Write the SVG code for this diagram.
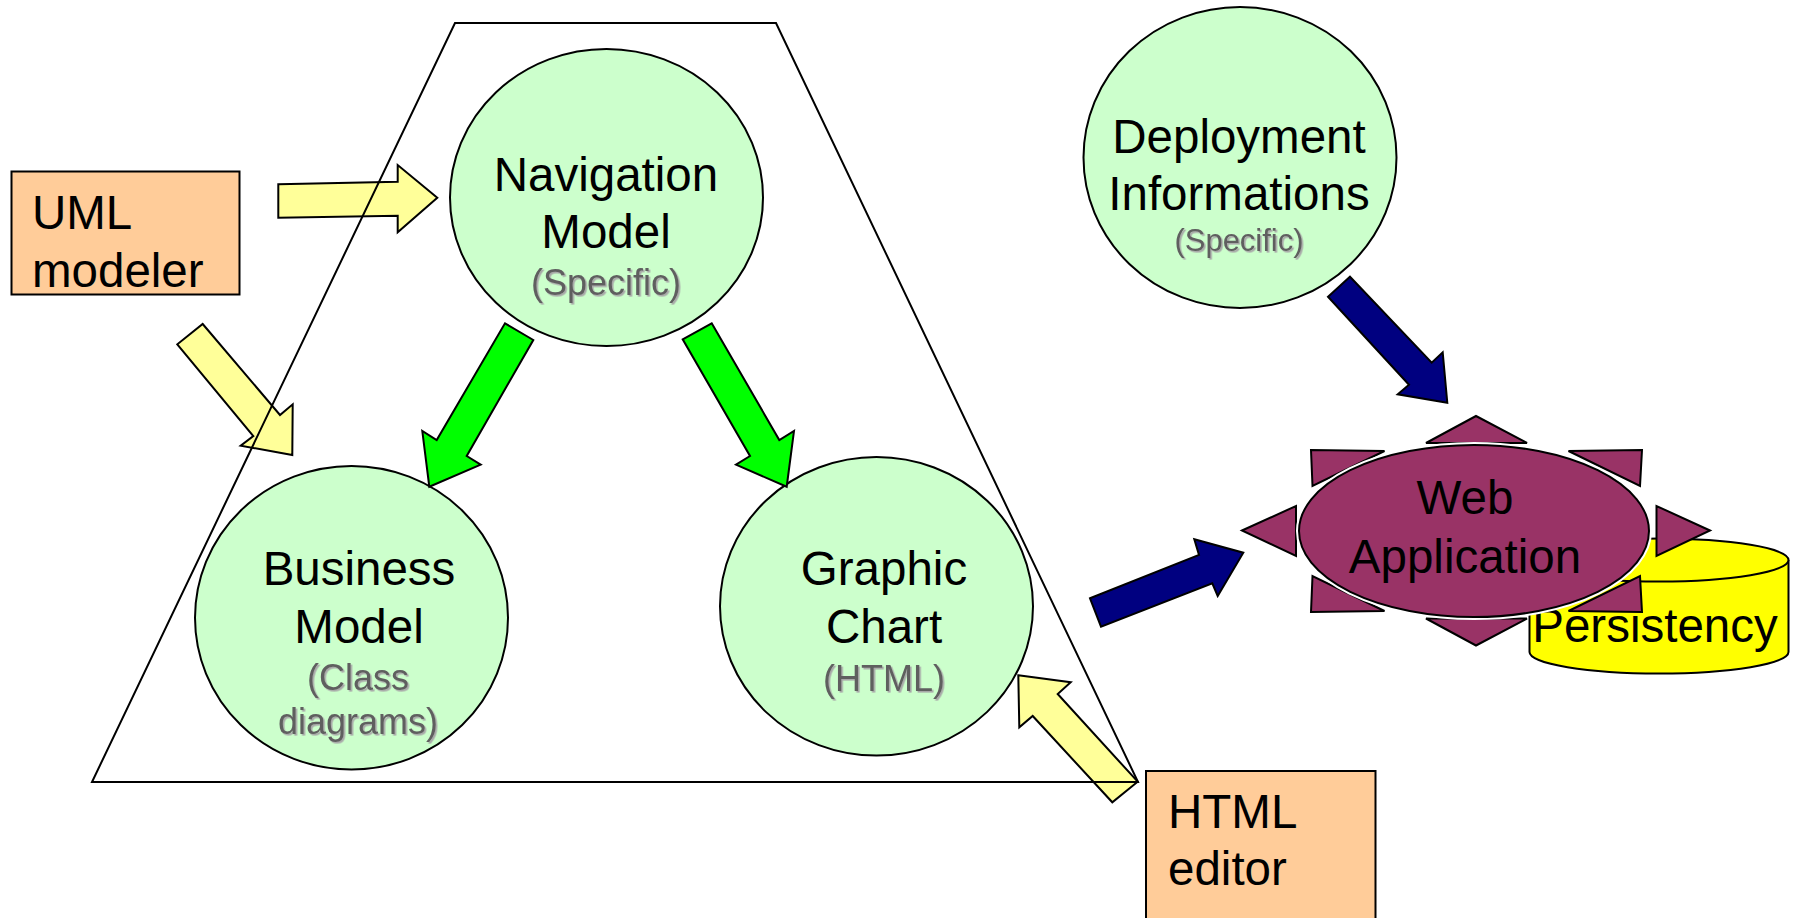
<svg xmlns="http://www.w3.org/2000/svg" width="1797" height="918" viewBox="0 0 1797 918">
  <defs>
    <filter id="soft-shadow" x="-10%" y="-20%" width="130%" height="150%">
      <feDropShadow dx="1.6" dy="1.6" stdDeviation="0.4" flood-color="#a8a8a8" flood-opacity="1"/>
    </filter>
  </defs>
  <style>
    text { font-family: "Liberation Sans", Arial, sans-serif; fill: #000000; }
    .label { font-size: 47.5px; }
    .mid { text-anchor: middle; }
    .sub { font-size: 36px; fill: #5f5f5f; filter: url(#soft-shadow); }
    .sub-small { font-size: 31px; fill: #5f5f5f; filter: url(#soft-shadow); }
    .model { fill: #ccffcc; stroke: #000000; stroke-width: 2; }
    .tool { fill: #ffcc99; stroke: #000000; stroke-width: 2; }
    .feed { fill: #ffff99; stroke: #000000; stroke-width: 2; stroke-linejoin: miter; }
    .derive { fill: #00ff00; stroke: #000000; stroke-width: 2; stroke-linejoin: miter; }
    .deploy { fill: #000080; stroke: #000000; stroke-width: 2; stroke-linejoin: miter; }
    .ray { fill: #993366; stroke: #000000; stroke-width: 2; stroke-linejoin: miter; }
    .frame { fill: none; stroke: #000000; stroke-width: 2; }
    .db { fill: #ffff00; stroke: #000000; stroke-width: 2; }
  </style>

  <rect x="0" y="0" width="1797" height="918" fill="#ffffff"/>

  <!-- Persistency store (sits behind the web application) -->
  <g id="persistency">
    <path class="db" d="M1529.5,560 L1529.5,652 A129.5,21.5 0 0 0 1788.5,652 L1788.5,560 A129.5,21.5 0 0 0 1529.5,560 Z"/>
    <path class="db" d="M1529.5,560 A129.5,21.5 0 0 0 1788.5,560"/>
    <text class="label mid" x="1655" y="642">Persistency</text>
  </g>

  <!-- Web application: burst of rays around an ellipse -->
  <g id="web-application">
    <polygon class="ray" points="1476,416 1426,443 1527,443"/>
    <polygon class="ray" points="1476,645.5 1426,618.5 1527,618.5"/>
    <polygon class="ray" points="1242,530.5 1296,506 1296,556"/>
    <polygon class="ray" points="1710,530.5 1656.5,506 1656.5,556"/>
    <polygon class="ray" points="1311,450 1384.5,451 1312.5,486"/>
    <polygon class="ray" points="1642,450 1568.5,451 1640,486"/>
    <polygon class="ray" points="1311,612 1384.5,611 1312.5,576"/>
    <polygon class="ray" points="1642,612 1568.5,611 1640,576"/>
    <ellipse cx="1474" cy="531" rx="175" ry="86" fill="none" stroke="#ffffff" stroke-width="6"/>
    <ellipse cx="1474" cy="531" rx="175" ry="86" fill="#993366" stroke="#000000" stroke-width="2"/>
    <text class="label mid" x="1465" y="514">Web</text>
    <text class="label mid" x="1465" y="573">Application</text>
  </g>

  <!-- Model nodes -->
  <g id="navigation-model">
    <ellipse class="model" cx="606.5" cy="197.5" rx="156.5" ry="148.5"/>
    <text class="label mid" x="606" y="191">Navigation</text>
    <text class="label mid" x="606" y="248">Model</text>
    <text class="sub mid" x="606" y="295">(Specific)</text>
  </g>

  <g id="business-model">
    <ellipse class="model" cx="351.5" cy="617.75" rx="156.5" ry="151.75"/>
    <text class="label mid" x="359" y="585">Business</text>
    <text class="label mid" x="359" y="643">Model</text>
    <text class="sub mid" x="358" y="690">(Class</text>
    <text class="sub mid" x="358" y="734">diagrams)</text>
  </g>

  <g id="graphic-chart">
    <ellipse class="model" cx="876.5" cy="606.3" rx="156.5" ry="149.3"/>
    <text class="label mid" x="884" y="585">Graphic</text>
    <text class="label mid" x="884" y="643">Chart</text>
    <text class="sub mid" x="884" y="691">(HTML)</text>
  </g>

  <g id="deployment-informations">
    <ellipse class="model" cx="1240" cy="157.5" rx="156.5" ry="150.5"/>
    <text class="label mid" x="1239" y="153">Deployment</text>
    <text class="label mid" x="1239" y="210">Informations</text>
    <text class="sub-small mid" x="1239" y="251">(Specific)</text>
  </g>

  <!-- Tools -->
  <g id="uml-modeler">
    <rect class="tool" x="11.5" y="171.5" width="228" height="123"/>
    <text class="label" x="32" y="229">UML</text>
    <text class="label" x="32" y="286.5">modeler</text>
  </g>

  <g id="html-editor">
    <rect class="tool" x="1146" y="771" width="229.5" height="160"/>
    <text class="label" x="1168" y="828">HTML</text>
    <text class="label" x="1168" y="885">editor</text>
  </g>

  <!-- Block arrows between nodes -->
  <g id="connectors">
    <!-- UML modeler -> Navigation Model -->
    <polygon class="feed" points="278.3,184.3 397.7,181.7 397.7,165 437.3,197.7 397.7,232.3 397.7,215.7 278.3,217.7"/>
    <!-- UML modeler -> Business Model -->
    <polygon class="feed" points="202.7,324 280,415 292.7,404.3 292.3,455 240.7,445.7 253.3,436 177.3,344.3"/>
    <!-- HTML editor -> Graphic Chart -->
    <polygon class="feed" points="1018.3,675.3 1070.7,682.3 1057.7,694 1137.7,781.7 1112.3,802.3 1032.7,716 1019.3,727.3"/>
    <!-- Navigation Model -> Business Model -->
    <polygon class="derive" points="505,323.3 533.3,340 466.7,456 480.7,464.7 429.3,486.7 422.3,431 436.7,440"/>
    <!-- Navigation Model -> Graphic Chart -->
    <polygon class="derive" points="711.7,323.3 779.3,440 794,431 786.7,486.7 736,464.7 750,456 682.7,339.3"/>
    <!-- Deployment Informations -> Web Application -->
    <polygon class="deploy" points="1350,276.7 1431.7,362.7 1442.7,352.3 1447.3,402.7 1397.7,394.3 1409,384.7 1328,296.7"/>
    <!-- Graphic Chart -> Web Application -->
    <polygon class="deploy" points="1090,598.3 1199,555 1194.3,539.3 1243.3,552.7 1217.7,596 1212.3,583.3 1101,626.7"/>
  </g>

  <!-- Trapezoid outlining the model space -->
  <g id="model-space">
    <polygon class="frame" points="455,23 776,23 1138,782 92,782"/>
  </g>
</svg>
